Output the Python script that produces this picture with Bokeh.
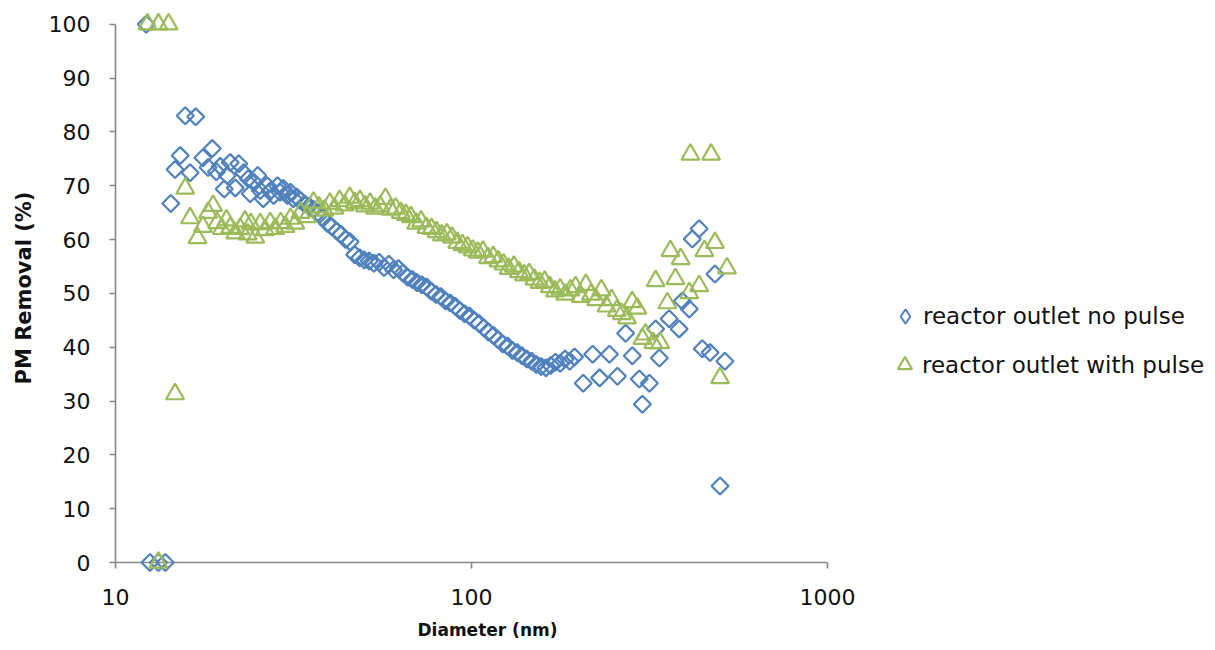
import math
from bokeh.plotting import figure
from bokeh.models import Range1d, FixedTicker, BasicTickFormatter, Legend, LegendItem, Title
from bokeh.embed import file_html
from bokeh.resources import INLINE

# ---------------- data ----------------
no_pulse_d = [12.2, 12.5, 13.2, 13.8, 14.3, 14.7, 15.2, 15.7, 16.2, 16.8, 17.6, 18.2, 18.7, 19.2, 19.7,
              20.2, 20.6, 21.0, 21.7, 22.2, 22.9, 23.6, 23.9, 24.5, 25.1, 25.5, 26.0, 26.7, 27.2, 27.8,
              28.5, 29.0, 29.6, 30.4, 31.0, 31.6, 32.3, 33.1, 34.0, 35.0, 36.0, 37.0, 38.0, 39.4, 40.5,
              41.8, 43.0, 44.3, 45.6, 47.0, 48.5, 50.0, 51.6, 53.2, 55.0, 56.8, 58.6, 60.4, 62.3, 64.2,
              66.2, 68.2, 70.3, 72.5, 74.8, 77.1, 79.5, 82.0, 84.6, 87.2, 90.0, 92.8, 95.7, 98.7, 101.8,
              105.0, 108.3, 111.7, 115.2, 118.8, 122.5, 126.3, 130.3, 134.4, 138.6, 143.0, 147.5, 152.1,
              156.9, 161.8, 166.9, 172.1, 177.5, 183.1, 188.8, 194.7, 206, 219, 229, 244, 257, 271, 283,
              296, 302, 316, 329, 337, 359, 383, 391, 409, 417, 436, 445, 468, 483, 499, 515]
no_pulse_v = [100, 0, 0, 0, 66.7, 73.0, 75.6, 83.0, 72.4, 82.8, 75.2, 73.4, 76.9, 72.6, 73.6,
              69.4, 71.9, 74.3, 69.6, 74.1, 72.4, 71.3, 68.5, 70.6, 71.9, 69.1, 67.6, 70.0, 69.0, 68.2,
              70.0, 68.8, 69.5, 68.2, 68.8, 67.6, 67.9, 67.2, 66.6, 66.2, 65.6, 65.0, 64.2, 63.0, 62.4,
              61.6, 61.0, 60.0, 59.6, 57.2, 56.6, 56.2, 56.0, 55.6, 55.8, 54.8, 55.4, 54.4, 54.6, 53.8,
              53.0, 52.6, 52.0, 51.6, 51.2, 50.4, 49.8, 49.4, 48.6, 48.2, 47.6, 46.8, 46.2, 45.8, 45.0,
              44.4, 43.6, 42.8, 42.2, 41.4, 40.6, 40.2, 39.4, 39.0, 38.4, 37.8, 37.4, 36.8,
              36.4, 36.2, 36.6, 37.2, 37.0, 37.8, 37.4, 38.2, 33.3, 38.7, 34.3, 38.7, 34.6, 42.6, 38.4,
              34.1, 29.4, 33.3, 43.4, 38.0, 45.3, 43.4, 48.6, 47.1, 60.1, 62.0, 39.7, 39.0, 53.6, 14.2, 37.4]

with_pulse_d = [12.3, 13.2, 13.2, 14.1, 14.7, 15.7, 16.2, 17.0, 17.6, 18.2, 18.8, 19.3, 19.9, 20.5, 21.0,
                21.7, 22.4, 23.1, 23.5, 24.0, 24.7, 25.5, 26.3, 27.2, 28.1, 29.1, 30.0, 31.0, 32.0, 33.1,
                34.5, 36.0, 37.3, 38.6, 40.0, 41.2, 42.6, 44.0, 45.5, 47.0, 48.6, 50.2, 51.9, 53.6, 55.4,
                57.3, 59.2, 61.2, 63.3, 65.4, 67.6, 69.9, 72.2, 74.7, 77.2, 79.8, 82.5, 85.3, 88.2, 91.2,
                94.3, 97.5, 100.8, 104.2, 107.7, 111.3, 115.1, 119.0, 123.0, 127.2, 131.5, 135.9, 140.5,
                145.3, 150.2, 155.3, 160.5, 166.0, 171.6, 177.4, 183.4, 189.6, 196.0, 202.7, 209.5, 216.6,
                224.0, 231.6, 239.4, 247.5, 255.9, 264.6, 273.5, 282.8, 292.4, 302, 308, 324, 329, 339,
                355, 362, 374, 387, 409, 412, 436, 451, 471, 483, 499, 522]
with_pulse_v = [100, 100, 0, 100, 31.3, 69.5, 64.0, 60.3, 62.4, 65.0, 66.3, 63.1, 62.0, 63.6, 62.2,
                61.2, 62.0, 63.4, 61.0, 62.9, 60.4, 62.9, 61.8, 63.1, 62.0, 63.1, 62.4, 63.9, 63.0, 65.0,
                64.2, 66.9, 66.0, 65.4, 66.7, 65.8, 67.2, 66.4, 67.8, 66.8, 67.2, 66.2, 66.7, 65.8, 66.2,
                67.6, 65.6, 65.8, 65.0, 64.6, 64.2, 63.0, 63.4, 62.2, 62.0, 61.4, 60.8, 61.0, 60.4, 59.4,
                59.0, 58.6, 58.0, 57.6, 57.8, 56.6, 56.8, 56.0, 55.4, 54.6, 55.0, 54.0, 53.4,
                53.6, 52.6, 52.0, 52.2, 51.2, 50.4, 50.8, 49.8, 50.6, 51.2, 49.4, 51.6, 49.8,
                48.8, 50.6, 47.6, 48.8, 46.8, 46.2, 45.4, 48.4, 47.2, 41.6, 42.4, 40.8, 52.3, 40.8,
                48.2, 57.9, 52.7, 56.4, 50.1, 75.8, 51.4, 57.9, 75.8, 59.4, 34.3, 54.7]

series_names = ["reactor outlet no pulse", "reactor outlet with pulse"]
x_ticks = [10, 100, 1000]
y_ticks = [0, 10, 20, 30, 40, 50, 60, 70, 80, 90, 100]
x_title = "Diameter (nm)"
y_title = "PM Removal (%)"

BLUE = "#4F81BD"
GREEN = "#9BBB59"
AXIS = "#868686"

# frame extends to the right edge so the legend sits inside it; axis lines are bounded
p = figure(width=1215, height=650, x_axis_type="log", output_backend="svg",
           toolbar_location=None, x_range=Range1d(10, 12300), y_range=Range1d(0, 102),
           min_border_left=115, min_border_right=0, min_border_top=13, min_border_bottom=88)
p.outline_line_color = None
p.xgrid.visible = False
p.ygrid.visible = False
p.background_fill_color = "white"

r_blue = p.scatter(no_pulse_d, no_pulse_v, marker="square", angle=math.pi / 4, size=12,
                   fill_color=None, line_color=BLUE, line_width=2.2, level="overlay")
r_green = p.scatter(with_pulse_d, with_pulse_v, marker="triangle", size=18,
                    fill_color=None, line_color=GREEN, line_width=2.2, level="overlay")
# legend swatch for the diamonds (the legend ignores marker rotation)
r_blue_key = p.scatter(no_pulse_d, no_pulse_v, marker="diamond", size=12,
                       fill_color=None, line_color=BLUE, line_width=2, visible=False)

# axes
for ax in (p.xaxis[0], p.yaxis[0]):
    ax.axis_line_color = AXIS
    ax.axis_line_width = 1.6
    ax.major_tick_line_color = AXIS
    ax.major_tick_line_width = 1.6
    ax.major_tick_out = 6
    ax.major_tick_in = 0
    ax.minor_tick_out = 0
    ax.minor_tick_in = 0
    ax.major_label_text_font = "DejaVu Sans"
    ax.major_label_text_font_size = "22px"
    ax.major_label_text_color = "#111111"
    ax.axis_label_text_font = "DejaVu Sans"
    ax.axis_label_text_font_style = "bold"
    ax.axis_label_text_color = "#111111"

xa = p.xaxis[0]
xa.ticker = FixedTicker(ticks=x_ticks)
xa.formatter = BasicTickFormatter()
xa.bounds = (10, 1000)
xa.major_label_standoff = 20

ya = p.yaxis[0]
ya.ticker = FixedTicker(ticks=y_ticks)
ya.bounds = (0, 100)
ya.major_label_standoff = 19
ya.axis_label = y_title
ya.axis_label_text_font_size = "21px"
ya.axis_label_standoff = 10

# x-axis title, placed under the 10..1000 axis (the frame itself is wider)
p.add_layout(Title(text=x_title, align="left", offset=302, standoff=20,
                   text_font="DejaVu Sans", text_font_style="bold", text_font_size="17px",
                   text_color="#111111"), "below")

# legends (two, so the two glyph sizes can differ)
leg1 = Legend(items=[LegendItem(label=series_names[0], renderers=[r_blue_key])],
              location=(772, 228), glyph_width=36, glyph_height=36, label_standoff=0,
              padding=0, margin=0, border_line_color=None, background_fill_alpha=0,
              label_text_font="DejaVu Sans", label_text_font_size="23px", label_text_color="#111111")
leg2 = Legend(items=[LegendItem(label=series_names[1], renderers=[r_green])],
              location=(772, 180), glyph_width=35, glyph_height=35, label_standoff=0,
              padding=0, margin=0, border_line_color=None, background_fill_alpha=0,
              label_text_font="DejaVu Sans", label_text_font_size="23px", label_text_color="#111111")
p.add_layout(leg1)
p.add_layout(leg2)

open("out.html", "w").write(file_html(p, INLINE))
